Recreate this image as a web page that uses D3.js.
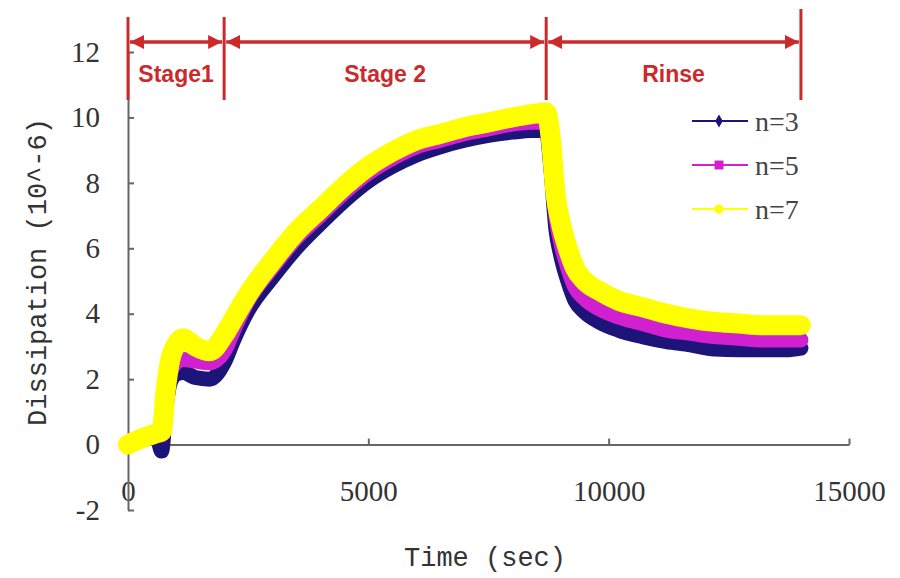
<!DOCTYPE html>
<html>
<head>
<meta charset="utf-8">
<script src="https://cdn.jsdelivr.net/npm/d3@7/dist/d3.min.js"></script>
<style>
  html, body { margin: 0; padding: 0; background: #fff; }
  svg { display: block; }
</style>
</head>
<body>
<svg id="chart" width="900" height="578"></svg>
<script>
// time (sec) shared by all three overtones
const times = [0, 300, 600, 700, 780, 880, 1000, 1150, 1400, 1700,
  2000, 2200, 2500, 3000, 3500, 4000, 4500, 5000, 5500, 6000, 6500, 7000, 7500, 8000, 8400,
  8700, 8800, 8900, 9000, 9150, 9300, 9500, 9800, 10200, 10700, 11200, 11700, 12200, 12700, 13200, 13700, 14000];

const n3 = [0.0, 0.15, 0.2, -0.2, 1.0, 1.9, 2.15, 2.2, 2.05, 2.0,
  2.5, 3.2, 4.1, 5.1, 6.0, 6.75, 7.45, 8.05, 8.5, 8.85, 9.1, 9.3, 9.45, 9.55, 9.6,
  9.6, 8.4, 6.6, 5.8, 5.0, 4.4, 4.05, 3.75, 3.5, 3.3, 3.15, 3.05, 2.92, 2.9, 2.9, 2.9, 2.95];

const n5 = [0.0, 0.2, 0.3, 0.3, 1.3, 2.2, 2.5, 2.6, 2.55, 2.5,
  2.85, 3.5, 4.4, 5.4, 6.3, 7.0, 7.7, 8.3, 8.75, 9.1, 9.3, 9.5, 9.65, 9.8, 9.85,
  9.85, 8.8, 7.0, 6.2, 5.4, 4.8, 4.45, 4.15, 3.9, 3.7, 3.5, 3.4, 3.3, 3.25, 3.2, 3.2, 3.2];

const n7 = [0.0, 0.2, 0.35, 0.4, 1.6, 2.6, 3.05, 3.25, 3.0, 2.85,
  3.35, 3.85, 4.6, 5.6, 6.5, 7.2, 7.9, 8.5, 8.95, 9.3, 9.5, 9.7, 9.85, 10.0, 10.1,
  10.15, 9.3, 7.6, 6.8, 6.0, 5.4, 5.0, 4.7, 4.4, 4.2, 4.0, 3.85, 3.75, 3.7, 3.65, 3.65, 3.65];

const seriesNames = ["n=3", "n=5", "n=7"];
const seriesValues = [n3, n5, n7];

const xTicks = [0, 5000, 10000, 15000];
const yTicks = [-2, 0, 2, 4, 6, 8, 10, 12];

const stageBounds = [0, 2000, 8700, 14000];
const stageLabels = ["Stage1", "Stage 2", "Rinse"];

const colors = ["#1c1478", "#d020d0", "#ffff00"];
const widths = [15, 15, 20];
const red = "#cc2a2a";

const svg = d3.select("#chart");

const x = d3.scaleLinear().domain([0, 15000]).range([128, 849]);
const y = d3.scaleLinear().domain([-2, 12]).range([510, 52]);

// axes
const xAxis = svg.append("g")
    .attr("transform", `translate(0,${y(0)})`)
    .call(d3.axisBottom(x).tickValues(xTicks).tickFormat(d => String(d))
        .tickSizeInner(-6).tickSizeOuter(0).tickPadding(36));

const yAxis = svg.append("g")
    .attr("transform", `translate(${x(0)},0)`)
    .call(d3.axisLeft(y).tickValues(yTicks).tickFormat(d => String(d))
        .tickSizeInner(-6).tickSizeOuter(0).tickPadding(28));

[xAxis, yAxis].forEach(a => {
    a.select(".domain").attr("stroke", "#666").attr("stroke-width", 2);
    a.selectAll(".tick line").attr("stroke", "#666").attr("stroke-width", 2);
    a.selectAll(".tick text")
        .attr("fill", "#333")
        .style("font-family", "'Liberation Serif', serif")
        .style("font-size", "29px");
});

// axis titles
svg.append("text")
    .attr("x", 485).attr("y", 566)
    .attr("text-anchor", "middle")
    .attr("fill", "#333")
    .style("font-family", "'Liberation Mono', monospace")
    .style("font-size", "27px")
    .text("Time (sec)");

svg.append("text")
    .attr("transform", "translate(46,272) rotate(-90)")
    .attr("text-anchor", "middle")
    .attr("fill", "#333")
    .style("font-family", "'Liberation Mono', monospace")
    .style("font-size", "27px")
    .text("Dissipation (10^-6)");

// data lines
const line = d3.line()
    .x((d, i) => x(times[i]))
    .y(d => y(d))
    .curve(d3.curveMonotoneX);

svg.append("g")
    .selectAll("path")
    .data(seriesValues)
    .enter().append("path")
    .attr("d", line)
    .attr("fill", "none")
    .attr("stroke", (d, i) => colors[i])
    .attr("stroke-width", (d, i) => widths[i])
    .attr("stroke-linejoin", "round")
    .attr("stroke-linecap", "round");

// stage annotations
svg.append("defs").append("marker")
    .attr("id", "arrow")
    .attr("viewBox", "0 0 10 10")
    .attr("refX", 10).attr("refY", 5)
    .attr("markerWidth", 4).attr("markerHeight", 4)
    .attr("orient", "auto-start-reverse")
    .append("path")
    .attr("d", "M0,0 L10,5 L0,10 Z")
    .attr("fill", red);

const stages = svg.append("g");

stages.selectAll("line.bound")
    .data(stageBounds)
    .enter().append("line")
    .attr("class", "bound")
    .attr("x1", d => x(d)).attr("x2", d => x(d))
    .attr("y1", (d, i) => i === stageBounds.length - 1 ? 9 : 17)
    .attr("y2", 100)
    .attr("stroke", red)
    .attr("stroke-width", 3);

stages.selectAll("line.span")
    .data(stageLabels)
    .enter().append("line")
    .attr("class", "span")
    .attr("x1", (d, i) => x(stageBounds[i]) + 2)
    .attr("x2", (d, i) => x(stageBounds[i + 1]) - 2)
    .attr("y1", 42).attr("y2", 42)
    .attr("stroke", red)
    .attr("stroke-width", 3.5)
    .attr("marker-start", "url(#arrow)")
    .attr("marker-end", "url(#arrow)");

stages.selectAll("text")
    .data(stageLabels)
    .enter().append("text")
    .attr("x", (d, i) => (x(stageBounds[i]) + x(stageBounds[i + 1])) / 2)
    .attr("y", 82)
    .attr("text-anchor", "middle")
    .attr("fill", red)
    .style("font-family", "'Liberation Sans', Arial, sans-serif")
    .style("font-weight", "bold")
    .style("font-size", "23px")
    .text(d => d);

// legend
const legend = svg.append("g")
    .selectAll("g")
    .data(seriesNames)
    .enter().append("g")
    .attr("transform", (d, i) => `translate(692,${121 + i * 44})`);

legend.append("line")
    .attr("x1", 0).attr("x2", 56)
    .attr("stroke", (d, i) => colors[i])
    .attr("stroke-width", 2);

legend.append("path")
    .attr("transform", "translate(27,0)")
    .attr("d", (d, i) => d3.symbol().type([d3.symbolDiamond, d3.symbolSquare, d3.symbolCircle][i]).size([50, 80, 70][i])())
    .attr("fill", (d, i) => colors[i]);

legend.append("text")
    .attr("x", 63).attr("dy", "0.35em")
    .attr("fill", "#444")
    .style("font-family", "'Liberation Serif', serif")
    .style("font-size", "28px")
    .text(d => d);
</script>
</body>
</html>
